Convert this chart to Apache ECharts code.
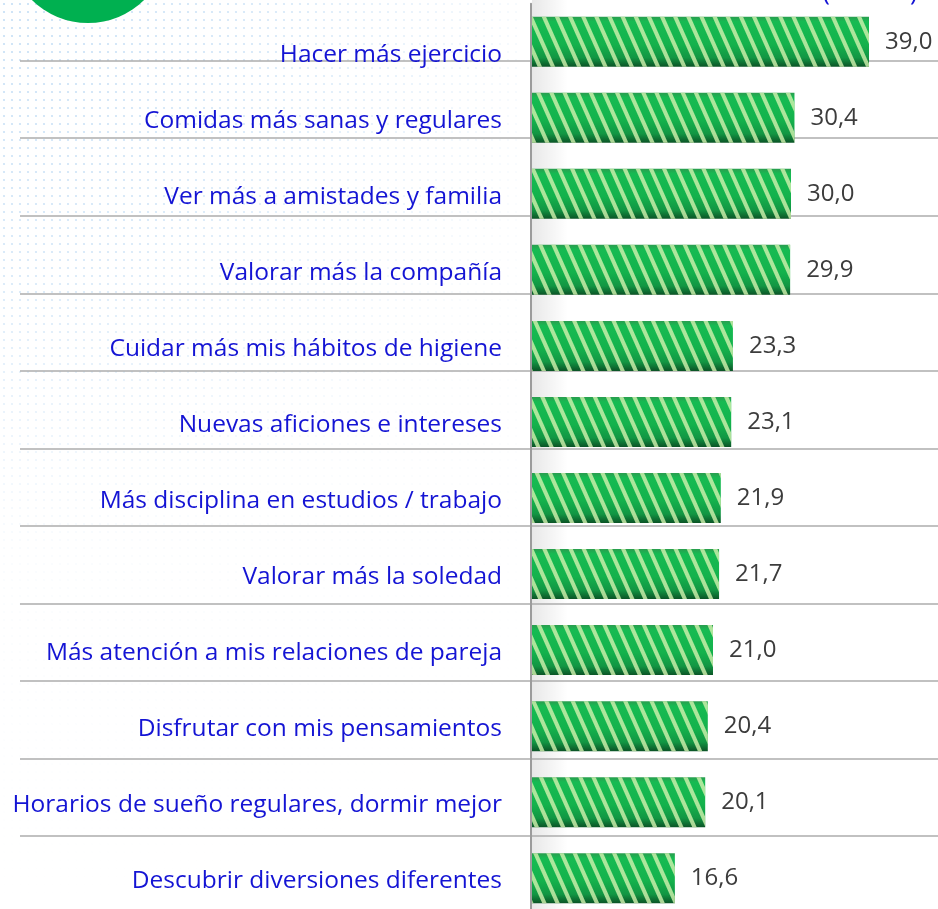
<!DOCTYPE html>
<html>
<head>
<meta charset="utf-8">
<script src="https://cdn.jsdelivr.net/npm/echarts@6/dist/echarts.min.js"></script>
<style>
  html, body { margin: 0; padding: 0; background: #fff; overflow: hidden; }
  #chart { width: 938px; height: 925px; }
</style>
</head>
<body>
<div id="chart"></div>
<script>
// datos
const categories = [
  'Hacer más ejercicio',
  'Comidas más sanas y regulares',
  'Ver más a amistades y familia',
  'Valorar más la compañía',
  'Cuidar más mis hábitos de higiene',
  'Nuevas aficiones e intereses',
  'Más disciplina en estudios / trabajo',
  'Valorar más la soledad',
  'Más atención a mis relaciones de pareja',
  'Disfrutar con mis pensamientos',
  'Horarios de sueño regulares, dormir mejor',
  'Descubrir diversiones diferentes'
]
const values = [39.0, 30.4, 30.0, 29.9, 23.3, 23.1, 21.9, 21.7, 21.0, 20.4, 20.1, 16.6]
// separadores entre filas (eje auxiliar)
const separatorTicks = [0, 10]

const FONT = '"Open Sans", "Noto Sans", sans-serif'
const BLUE = '#1414d4'

// fondo de puntos
const dots = document.createElement('canvas')
dots.width = 8
dots.height = 8
const dctx = dots.getContext('2d')
dctx.fillStyle = '#c4def5'
dctx.beginPath()
dctx.arc(4, 4, 1.1, 0, Math.PI * 2)
dctx.fill()

const chart = echarts.init(document.getElementById('chart'))

chart.setOption({
  backgroundColor: '#fff',
  animation: false,
  graphic: [
    {
      type: 'rect', z: -10, silent: true,
      shape: { x: 0, y: 0, width: 520, height: 925 },
      style: { fill: { image: dots, repeat: 'repeat' } }
    },
    {
      type: 'rect', z: -9, silent: true,
      shape: { x: 0, y: 0, width: 522, height: 925 },
      style: {
        fill: {
          type: 'radial', x: 0, y: 0, r: 900, global: true,
          colorStops: [
            { offset: 0, color: 'rgba(255,255,255,0)' },
            { offset: 0.3, color: 'rgba(255,255,255,0.25)' },
            { offset: 0.62, color: 'rgba(255,255,255,0.9)' },
            { offset: 1, color: 'rgba(255,255,255,1)' }
          ]
        }
      }
    },
    {
      type: 'circle', z: -8, silent: true,
      shape: { cx: 88, cy: -57, r: 80 },
      style: { fill: '#00b050' }
    },
    {
      type: 'rect', z: -7, silent: true,
      shape: { x: 532, y: 0, width: 36, height: 925 },
      style: {
        fill: new echarts.graphic.LinearGradient(0, 0, 1, 0, [
          { offset: 0, color: 'rgba(0,0,0,0.09)' },
          { offset: 1, color: 'rgba(0,0,0,0)' }
        ])
      }
    },
    {
      type: 'text', silent: true,
      style: {
        x: 870, y: 5, text: '(% total)', fill: BLUE,
        font: '25px ' + FONT, textAlign: 'center', textVerticalAlign: 'bottom'
      }
    }
  ],
  grid: [
    { left: 531, top: 3.67, width: 390, height: 912.6 },
    { left: 20, right: 0, top: 60.7, height: 775.3 }
  ],
  xAxis: [
    { gridIndex: 0, type: 'value', min: 0, max: 45, show: false },
    { gridIndex: 1, type: 'value', min: 0, max: 1, show: false }
  ],
  yAxis: [
    {
      gridIndex: 0,
      type: 'category',
      inverse: true,
      data: categories,
      axisLine: { show: true, lineStyle: { color: '#9c9c9c', width: 2 } },
      axisTick: { show: false },
      splitLine: { show: false },
      axisLabel: {
        margin: 29,
        formatter: (v, i) => i === 0 ? '{first|' + v + '}' : '{rest|' + v + '}',
        rich: {
          first: { color: BLUE, fontSize: 24.5, fontFamily: FONT, padding: [26, 0, 0, 0] },
          rest: { color: BLUE, fontSize: 24.5, fontFamily: FONT, padding: [6, 0, 0, 0] }
        }
      },
      z: 3
    },
    {
      gridIndex: 1,
      type: 'value',
      min: separatorTicks[0],
      max: separatorTicks[1],
      interval: 1,
      axisLine: { show: false },
      axisTick: { show: false },
      axisLabel: { show: false },
      splitLine: { show: true, lineStyle: { color: '#acacac', width: 1.6 } }
    }
  ],
  series: [
    {
      type: 'bar',
      xAxisIndex: 0,
      yAxisIndex: 0,
      data: values,
      barWidth: 50,
      z: 2,
      itemStyle: {
        color: new echarts.graphic.LinearGradient(0, 0, 0, 1, [
          { offset: 0, color: '#2a9d4f' },
          { offset: 0.1, color: '#16bb52' },
          { offset: 0.55, color: '#14b24c' },
          { offset: 0.82, color: '#129643' },
          { offset: 1, color: '#0b5426' }
        ]),
        decal: {
          symbol: 'rect',
          symbolSize: 1,
          color: 'rgba(210,242,175,0.8)',
          backgroundColor: 'rgba(0,0,0,0)',
          dashArrayX: [1, 0],
          dashArrayY: [4, 7.5],
          rotation: 66 * Math.PI / 180
        }
      },
      label: {
        show: true,
        position: 'right',
        distance: 16,
        color: '#3c3c3c',
        fontSize: 24,
        fontFamily: FONT,
        padding: [5, 0, 0, 0],
        formatter: p => p.value.toFixed(1).replace('.', ',')
      }
    }
  ]
})
</script>
</body>
</html>
